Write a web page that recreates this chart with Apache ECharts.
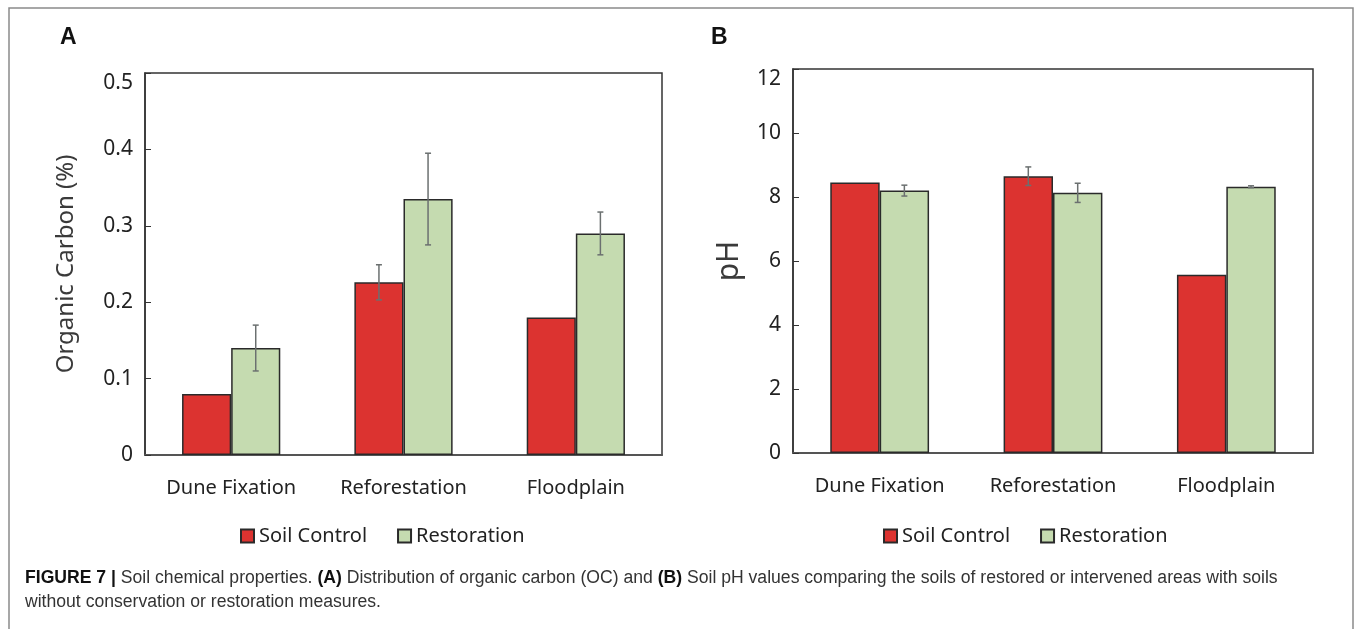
<!DOCTYPE html>
<html>
<head>
<meta charset="utf-8">
<script src="https://cdn.jsdelivr.net/npm/echarts@6/dist/echarts.min.js"></script>
<style>
  html, body { margin: 0; padding: 0; background: #fff; }
  #chart { width: 1357px; height: 629px; }
</style>
</head>
<body>
<div id="chart"></div>
<script>
// categories and values
var categories = ['Dune Fixation', 'Reforestation', 'Floodplain'];

// panel A: organic carbon (%)
var ocControl = [0.08, 0.226, 0.18];
var ocControlErr = [0, 0.023, 0];
var ocRestoration = [0.14, 0.335, 0.29];
var ocRestorationErr = [0.03, 0.06, 0.028];

// panel B: pH
var phControl = [8.45, 8.65, 5.57];
var phControlErr = [0, 0.29, 0];
var phRestoration = [8.2, 8.13, 8.32];
var phRestorationErr = [0.17, 0.3, 0.03];

var RED = '#dc3330';
var GREEN = '#c5dbb0';
var FONT = 'Noto Sans';
var GAP = 0.43; // barCategoryGap

function errData(vals, errs) {
  var out = [];
  for (var i = 0; i < vals.length; i++) {
    if (errs[i] > 0) out.push([i, vals[i], errs[i]]);
  }
  return out;
}

// draws error bar, shifted to the left (-1) or right (+1) bar of the group
function errRender(side) {
  return function (params, api) {
    var cat = api.value(0), v = api.value(1), e = api.value(2);
    var band = api.size([1, 0])[0];
    var barW = band * (1 - GAP) / 2;
    var hi = api.coord([cat, v + e]);
    var lo = api.coord([cat, v - e]);
    var x = hi[0] + side * barW / 2;
    var cap = 3;
    var st = { stroke: '#6b7070', lineWidth: 1.5 };
    return {
      type: 'group',
      children: [
        { type: 'line', shape: { x1: x, y1: hi[1], x2: x, y2: lo[1] }, style: st },
        { type: 'line', shape: { x1: x - cap, y1: hi[1], x2: x + cap, y2: hi[1] }, style: st },
        { type: 'line', shape: { x1: x - cap, y1: lo[1], x2: x + cap, y2: lo[1] }, style: st }
      ]
    };
  };
}

function barSeries(name, data, color, idx) {
  return {
    name: name,
    type: 'bar',
    xAxisIndex: idx,
    yAxisIndex: idx,
    data: data,
    barGap: '0%',
    barCategoryGap: (GAP * 100) + '%',
    itemStyle: { color: color, borderColor: '#2a2a2a', borderWidth: 1.5 },
    emphasis: { disabled: true },
    z: 2
  };
}

function errSeries(name, vals, errs, side, idx) {
  return {
    name: name,
    type: 'custom',
    xAxisIndex: idx,
    yAxisIndex: idx,
    data: errData(vals, errs),
    renderItem: errRender(side),
    z: 5,
    silent: true
  };
}

var xAxisBase = {
  type: 'category',
  data: categories,
  axisLine: { lineStyle: { color: '#555', width: 2 } },
  axisTick: { show: false },
  axisLabel: { color: '#222', fontSize: 20, fontFamily: FONT, margin: 23 }
};

function yAxis(idx, name, max, interval, gap, nameSize) {
  return {
    type: 'value',
    gridIndex: idx,
    min: 0,
    max: max,
    interval: interval,
    name: name,
    nameLocation: 'middle',
    nameGap: gap,
    nameTextStyle: { color: '#3a3a3a', fontSize: nameSize, fontFamily: FONT },
    axisLine: { show: true, lineStyle: { color: '#333', width: 1.5 } },
    axisTick: { show: true, inside: true, length: 6, lineStyle: { color: '#333' } },
    axisLabel: { color: '#222', fontSize: 21, fontFamily: FONT, margin: 12, verticalAlignMaxLabel: 'top' },
    splitLine: { show: false }
  };
}

function legend(left) {
  return {
    left: left,
    top: 526,
    padding: 0,
    data: ['Soil Control', 'Restoration'],
    icon: 'rect',
    itemWidth: 13,
    itemHeight: 13,
    itemGap: 30,
    selectedMode: false,
    textStyle: { color: '#222', fontSize: 20, fontFamily: FONT }
  };
}

var chart = echarts.init(document.getElementById('chart'));
chart.setOption({
  animation: false,
  backgroundColor: '#fff',
  grid: [
    { left: 145, top: 73, right: 695, bottom: 174, show: true, borderColor: '#333', borderWidth: 1.5 },
    { left: 793, top: 69, right: 44, bottom: 176, show: true, borderColor: '#333', borderWidth: 1.5 }
  ],
  xAxis: [
    Object.assign({}, xAxisBase, { gridIndex: 0 }),
    Object.assign({}, xAxisBase, { gridIndex: 1 })
  ],
  yAxis: [
    yAxis(0, 'Organic Carbon (%)', 0.5, 0.1, 67, 24),
    yAxis(1, 'pH', 12, 2, 49, 30)
  ],
  legend: [legend(240), legend(883)],
  series: [
    barSeries('Soil Control', ocControl, RED, 0),
    barSeries('Restoration', ocRestoration, GREEN, 0),
    barSeries('Soil Control', phControl, RED, 1),
    barSeries('Restoration', phRestoration, GREEN, 1),
    errSeries('errA1', ocControl, ocControlErr, -1, 0),
    errSeries('errA2', ocRestoration, ocRestorationErr, 1, 0),
    errSeries('errB1', phControl, phControlErr, -1, 1),
    errSeries('errB2', phRestoration, phRestorationErr, 1, 1)
  ],
  graphic: [
    {
      type: 'rect',
      shape: { x: 9, y: 8, width: 1344, height: 660 },
      style: { fill: null, stroke: '#8a8a8a', lineWidth: 1.5 },
      silent: true
    },
    {
      type: 'text', left: 60, top: 26,
      style: { text: 'A', fontSize: 23, fontWeight: 'bold', fontFamily: 'Liberation Sans', fill: '#111' }
    },
    {
      type: 'text', left: 711, top: 26,
      style: { text: 'B', fontSize: 23, fontWeight: 'bold', fontFamily: 'Liberation Sans', fill: '#111' }
    },
    {
      type: 'text', left: 25, top: 566,
      style: {
        text: '{b|FIGURE 7 |} Soil chemical properties. {b|(A)} Distribution of organic carbon (OC) and {b|(B)} Soil pH values comparing the soils of restored or intervened areas with soils\nwithout conservation or restoration measures.',
        fontSize: 17.6,
        lineHeight: 24,
        fontFamily: 'Liberation Sans',
        fill: '#333',
        rich: {
          b: { fontSize: 17.6, lineHeight: 24, fontWeight: 'bold', fontFamily: 'Liberation Sans', fill: '#111' }
        }
      }
    }
  ]
});
</script>
</body>
</html>
